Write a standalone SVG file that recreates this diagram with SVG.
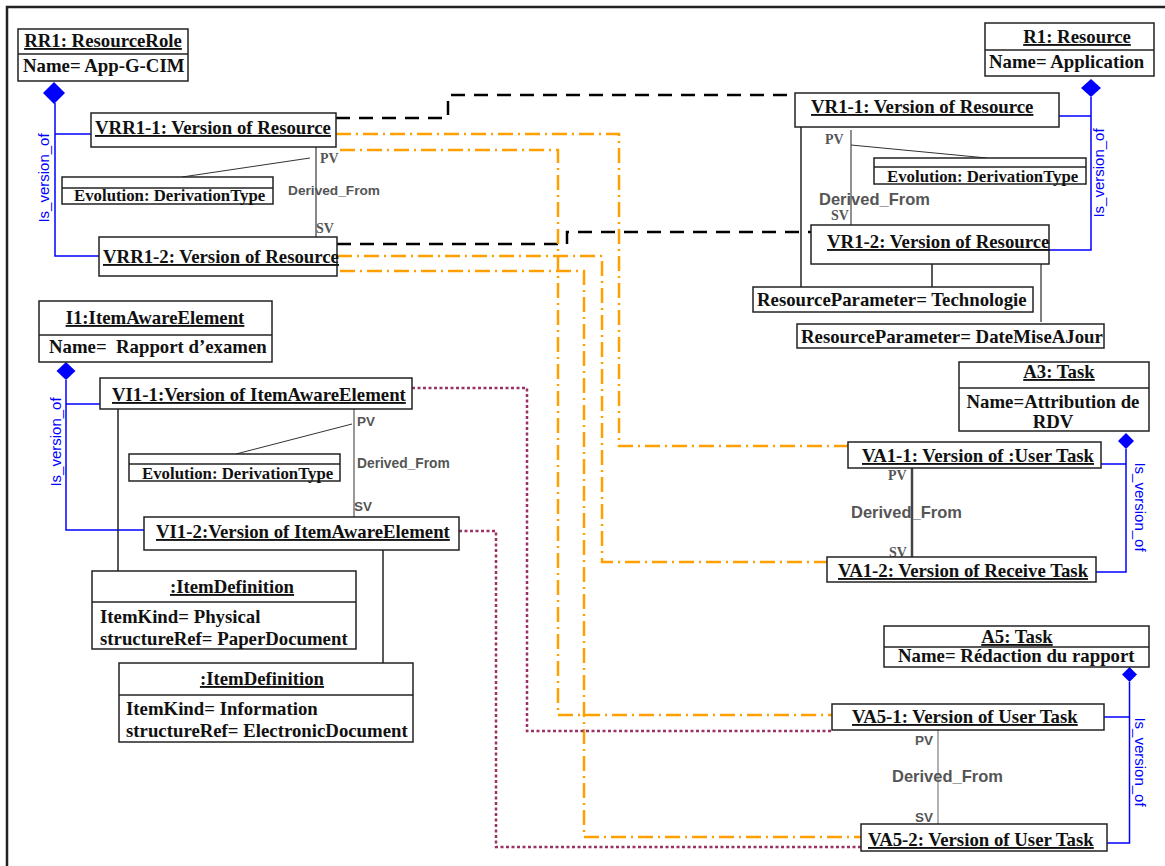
<svg xmlns="http://www.w3.org/2000/svg" width="1165" height="866" viewBox="0 0 1165 866">
  <style>
    .box { fill: #fff; stroke: #222; stroke-width: 1.5; }
    .div { stroke: #222; stroke-width: 1.3; }
    .t { font-family: "Liberation Serif", "Times New Roman", serif; font-weight: bold; font-size: 18.8px; fill: #111; }
    .u { text-decoration: underline; }
    .evo { font-family: "Liberation Serif", "Times New Roman", serif; font-weight: bold; font-size: 16.8px; fill: #111; }
    .role { font-family: "Liberation Serif", "Times New Roman", serif; font-weight: bold; font-size: 14px; fill: #555; }
    .roleA { font-family: "Liberation Sans", Arial, sans-serif; font-weight: bold; font-size: 13.5px; fill: #555; }
    .der { font-family: "Liberation Sans", Arial, sans-serif; font-weight: bold; fill: #555; }
    .iv { font-family: "Liberation Sans", Arial, sans-serif; font-size: 15px; fill: #0000ff; }
    .blue { fill: none; stroke: #0000ff; stroke-width: 1.5; }
    .dia { fill: #0000ff; }
    .link { fill: none; stroke: #222; stroke-width: 1.5; }
    .thin { fill: none; stroke: #333; stroke-width: 1; }
    .dash { fill: none; stroke: #000; stroke-width: 2.5; stroke-dasharray: 14 9; }
    .dd { fill: none; stroke: #ffa000; stroke-width: 2.5; stroke-dasharray: 15 5 2 5; }
    .dot { fill: none; stroke: #993366; stroke-width: 2.5; stroke-dasharray: 3 2.5; }
  </style>

  <!-- frame -->
  <path d="M7,866 V7 H1165" fill="none" stroke="#222" stroke-width="2.5"/>

  <!-- connectors -->
  <g id="connectors">
    <!-- version links between resource versions -->
    <path class="dash" d="M336,118 H448 V95 H795"/>
    <path class="dash" d="M337,244 H567 V232 H811"/>
    <!-- resource role versions to task versions -->
    <path class="dd" d="M336,134 H619 V446 H848"/>
    <path class="dd" d="M340,150 H558 V715 H832"/>
    <path class="dd" d="M337,256 H602 V562 H827"/>
    <path class="dd" d="M340,271 H584 V837 H861"/>
    <!-- item versions to task versions -->
    <path class="dot" d="M412,388 H527 V731 H832"/>
    <path class="dot" d="M459,531 H496 V847 H861"/>

    <!-- Is_version_of compositions -->
    <path class="blue" d="M55,103 V256 H99 M55,134 H91"/>
    <path class="dia" d="M54,82 L65,93 L54,104 L43,93 Z"/>
    <text class="iv" transform="translate(49,178) rotate(-90)" text-anchor="middle">Is_version_of</text>

    <path class="blue" d="M1091,97 V250 H1049 M1091,116 H1059"/>
    <path class="dia" d="M1091,79 L1101,88 L1091,97 L1081,88 Z"/>
    <text class="iv" transform="translate(1104,173) rotate(-90)" text-anchor="middle">Is_version_of</text>

    <path class="blue" d="M66,380 V530 H144 M66,404 H100"/>
    <path class="dia" d="M66,362 L75.5,371 L66,380 L56.5,371 Z"/>
    <text class="iv" transform="translate(61,442) rotate(-90)" text-anchor="middle">Is_version_of</text>

    <path class="blue" d="M1126,449 V572 H1096 M1126,464 H1101"/>
    <path class="dia" d="M1126,433 L1134,441 L1126,449 L1118,441 Z"/>
    <text class="iv" transform="translate(1135,507) rotate(90)" text-anchor="middle">Is_version_of</text>

    <path class="blue" d="M1129.5,682 V843 H1107 M1129.5,717 H1104"/>
    <path class="dia" d="M1129.5,667 L1137,674.5 L1129.5,682 L1122,674.5 Z"/>
    <text class="iv" transform="translate(1135,762) rotate(90)" text-anchor="middle">Is_version_of</text>

    <!-- Derived_From associations -->
    <path d="M316,147 V237" stroke="#888" stroke-width="2"/>
    <text class="role" x="320" y="163">PV</text>
    <text class="role" x="316" y="233">SV</text>
    <text class="der" x="288" y="195" font-size="13.7px">Derived_From</text>
    <path class="thin" d="M310,158 L182,177"/>

    <path d="M851,130 V225" stroke="#555" stroke-width="1.3"/>
    <text class="role" x="825" y="144">PV</text>
    <text class="role" x="831" y="220">SV</text>
    <text class="der" x="819" y="205" font-size="16.5px">Derived_From</text>
    <path class="thin" d="M851,145 L987,158"/>

    <path d="M354,409 V517" stroke="#999" stroke-width="2"/>
    <text class="roleA" x="357" y="426">PV</text>
    <text class="roleA" x="354" y="511">SV</text>
    <text class="der" x="357" y="468" font-size="13.8px">Derived_From</text>
    <path class="thin" d="M352,424 L236,454"/>

    <path d="M912,468 V557" stroke="#444" stroke-width="2.5"/>
    <text class="role" x="888" y="480">PV</text>
    <text class="role" x="889" y="557">SV</text>
    <text class="der" x="851" y="518" font-size="16.5px">Derived_From</text>

    <path d="M938,730 V824" stroke="#999" stroke-width="1.5"/>
    <text class="roleA" x="915" y="745">PV</text>
    <text class="roleA" x="915" y="822">SV</text>
    <text class="der" x="892" y="782" font-size="16.5px">Derived_From</text>

    <!-- attachment lines to parameters and item definitions -->
    <path class="link" d="M801,127 V287"/>
    <path class="link" d="M932,264 V287"/>
    <path d="M1041,264 V322" stroke="#555" stroke-width="1.5"/>
    <path class="link" d="M118,409 V571"/>
    <path class="link" d="M383,550 V663"/>
  </g>

  <!-- resource role -->
  <g id="RR1">
    <rect class="box" x="18" y="29" width="170" height="52"/>
    <line class="div" x1="18" y1="54" x2="188" y2="54"/>
    <text class="t u" x="103" y="47" text-anchor="middle">RR1: ResourceRole</text>
    <text class="t" x="23" y="72">Name= App-G-CIM</text>
  </g>
  <g id="VRR1-1">
    <rect class="box" x="91" y="113" width="245" height="34"/>
    <text class="t u" x="95" y="134">VRR1-1: Version of Resource</text>
  </g>
  <g id="VRR1-2">
    <rect class="box" x="99" y="237" width="238" height="39"/>
    <text class="t u" x="103" y="263">VRR1-2: Version of Resource</text>
  </g>
  <g id="EvoRR">
    <rect class="box" x="62" y="177" width="211" height="27"/>
    <line class="div" x1="62" y1="188" x2="273" y2="188"/>
    <text class="evo" x="74" y="201">Evolution: DerivationType</text>
  </g>

  <!-- resource -->
  <g id="R1">
    <rect class="box" x="985" y="23" width="169" height="53"/>
    <line class="div" x1="985" y1="50" x2="1154" y2="50"/>
    <text class="t u" x="1077" y="43" text-anchor="middle">R1: Resource</text>
    <text class="t" x="989" y="68">Name= Application</text>
  </g>
  <g id="VR1-1">
    <rect class="box" x="795" y="93" width="264" height="34"/>
    <text class="t u" x="811" y="113">VR1-1: Version of Resource</text>
  </g>
  <g id="VR1-2">
    <rect class="box" x="811" y="225" width="238" height="39"/>
    <text class="t u" x="827" y="248">VR1-2: Version of Resource</text>
  </g>
  <g id="EvoR">
    <rect class="box" x="874" y="158" width="212" height="26"/>
    <line class="div" x1="874" y1="167" x2="1086" y2="167"/>
    <text class="evo" x="887" y="182">Evolution: DerivationType</text>
  </g>
  <g id="ParamTech">
    <rect class="box" x="753" y="287" width="280" height="25"/>
    <text class="t" x="757" y="306">ResourceParameter= Technologie</text>
  </g>
  <g id="ParamDate">
    <rect class="box" x="797" y="324" width="307" height="24"/>
    <text class="t" x="801" y="343">ResourceParameter= DateMiseAJour</text>
  </g>

  <!-- item aware element -->
  <g id="I1">
    <rect class="box" x="39" y="301" width="233" height="61"/>
    <line class="div" x1="39" y1="335" x2="272" y2="335"/>
    <text class="t u" x="155" y="324" text-anchor="middle">I1:ItemAwareElement</text>
    <text class="t" x="49" y="353" xml:space="preserve">Name=  Rapport d’examen</text>
  </g>
  <g id="VI1-1">
    <rect class="box" x="100" y="378" width="312" height="31"/>
    <text class="t u" x="112" y="401">VI1-1:Version of ItemAwareElement</text>
  </g>
  <g id="VI1-2">
    <rect class="box" x="144" y="517" width="315" height="33"/>
    <text class="t u" x="156" y="538">VI1-2:Version of ItemAwareElement</text>
  </g>
  <g id="EvoI">
    <rect class="box" x="129" y="454" width="211" height="27"/>
    <line class="div" x1="129" y1="464" x2="340" y2="464"/>
    <text class="evo" x="142" y="479">Evolution: DerivationType</text>
  </g>
  <g id="ItemDef1">
    <rect class="box" x="92" y="571" width="264" height="78"/>
    <line class="div" x1="92" y1="602" x2="356" y2="602"/>
    <text class="t u" x="232" y="593" text-anchor="middle">:ItemDefinition</text>
    <text class="t" x="100" y="623">ItemKind= Physical</text>
    <text class="t" x="100" y="645">structureRef= PaperDocument</text>
  </g>
  <g id="ItemDef2">
    <rect class="box" x="119" y="663" width="294" height="79"/>
    <line class="div" x1="119" y1="695" x2="413" y2="695"/>
    <text class="t u" x="262" y="685" text-anchor="middle">:ItemDefinition</text>
    <text class="t" x="126" y="715">ItemKind= Information</text>
    <text class="t" x="126" y="737">structureRef= ElectronicDocument</text>
  </g>

  <!-- task A3 -->
  <g id="A3">
    <rect class="box" x="959" y="362" width="190" height="69"/>
    <line class="div" x1="959" y1="388" x2="1149" y2="388"/>
    <text class="t u" x="1059" y="378" text-anchor="middle">A3: Task</text>
    <text class="t" x="1053" y="408" text-anchor="middle">Name=Attribution de</text>
    <text class="t" x="1053" y="428" text-anchor="middle">RDV</text>
  </g>
  <g id="VA1-1">
    <rect class="box" x="848" y="442" width="253" height="26"/>
    <text class="t u" x="862" y="462">VA1-1: Version of :User Task</text>
  </g>
  <g id="VA1-2">
    <rect class="box" x="827" y="557" width="269" height="25"/>
    <text class="t u" x="838" y="577">VA1-2: Version of Receive Task</text>
  </g>

  <!-- task A5 -->
  <g id="A5">
    <rect class="box" x="884" y="626" width="265" height="41"/>
    <line class="div" x1="884" y1="647" x2="1149" y2="647"/>
    <text class="t u" x="1017" y="643" text-anchor="middle">A5: Task</text>
    <text class="t" x="898" y="662">Name= Rédaction du rapport</text>
  </g>
  <g id="VA5-1">
    <rect class="box" x="832" y="704" width="272" height="26"/>
    <text class="t u" x="852" y="723">VA5-1: Version of User Task</text>
  </g>
  <g id="VA5-2">
    <rect class="box" x="861" y="824" width="246" height="27"/>
    <text class="t u" x="868" y="846">VA5-2: Version of User Task</text>
  </g>
</svg>
